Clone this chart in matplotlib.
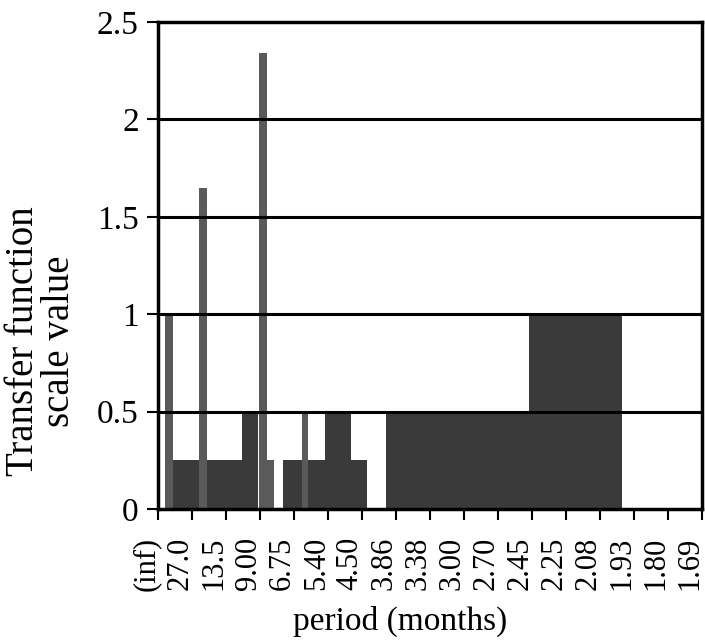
import matplotlib
matplotlib.use("Agg")
import matplotlib.pyplot as plt
import matplotlib.transforms as mtransforms

# bar blocks (x in tick units, 0 = (inf) tick)
left = [0.20, 0.44, 1.21, 1.44, 2.46, 2.97, 3.19, 3.66, 4.22, 4.42, 4.91, 5.67, 6.70, 10.92]
right = [0.44, 1.21, 1.44, 2.46, 2.95, 3.19, 3.41, 4.22, 4.42, 4.91, 5.67, 6.14, 10.92, 13.64]
height = [1.0, 0.25, 1.65, 0.25, 0.5, 2.34, 0.25, 0.25, 0.5, 0.25, 0.5, 0.25, 0.5, 1.0]

period_labels = ["(inf)", "27.0", "13.5", "9.00", "6.75", "5.40", "4.50", "3.86", "3.38",
                 "3.00", "2.70", "2.45", "2.25", "2.08", "1.93", "1.80", "1.69"]
y_ticks = [0, 0.5, 1, 1.5, 2, 2.5]
y_labels = ["0", "0.5", "1", "1.5", "2", "2.5"]

plt.rcParams['font.family'] = ['Liberation Serif', 'DejaVu Serif']

fig = plt.figure(figsize=(7.05, 6.42), dpi=100)
ax = fig.add_axes([0.2245, 0.2072, 0.771, 0.7585])

widths = [r - l for l, r in zip(left, right)]
colors = ['#5a5a5a' if w < 0.3 else '#3a3a3a' for w in widths]
ax.bar(left, height, width=widths, align='edge', color=colors, linewidth=0, zorder=2)

for yv in y_ticks[1:-1]:
    ax.axhline(yv, color='black', linewidth=2.2, zorder=3)

ax.set_xlim(0, 16)
ax.set_ylim(0, 2.5)
ax.set_xticks(range(len(period_labels)))
ax.set_xticklabels(period_labels, rotation=90, fontsize=22)
ax.set_yticks(y_ticks)
ax.set_yticklabels(y_labels, fontsize=24)
ax.tick_params(axis='both', direction='out', length=8, width=1.5, color='black')
ax.tick_params(axis='x', pad=12)
ax.tick_params(axis='y', pad=6)

# labels sit a bit left of their ticks in the original
shift = mtransforms.ScaledTranslation(-12 / 100, 0, fig.dpi_scale_trans)
for lab in ax.get_xticklabels():
    lab.set_transform(lab.get_transform() + shift)

for s in ax.spines.values():
    s.set_linewidth(2.5)
    s.set_zorder(4)

ax.set_xlabel("period (months)", fontsize=24)
ax.xaxis.set_label_coords(0.445, -0.198)
ax.set_ylabel("Transfer function\nscale value", fontsize=28, linespacing=0.95)
ax.yaxis.set_label_coords(-0.148, 0.345)

fig.savefig("out.png", dpi=100)
